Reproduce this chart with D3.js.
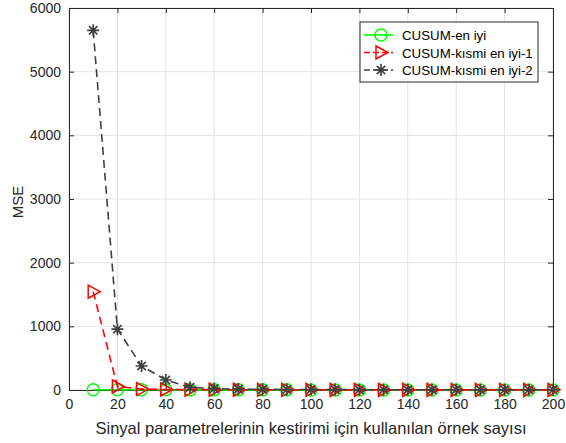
<!DOCTYPE html>
<html>
<head>
<meta charset="utf-8">
<script src="https://cdn.jsdelivr.net/npm/d3@7"></script>
<style>
body { margin: 0; background: #fff; }
text { font-family: "Liberation Sans", Arial, sans-serif; }
</style>
</head>
<body>
<div id="chart"></div>
<script>
const samples = [10, 20, 30, 40, 50, 60, 70, 80, 90, 100, 110, 120, 130, 140, 150, 160, 170, 180, 190, 200];
const best = [5, 4, 3, 3, 2, 2, 2, 2, 2, 1, 1, 1, 1, 1, 1, 1, 1, 1, 1, 1];
const partial1 = [1545, 55, 14, 8, 6, 5, 4, 3, 3, 3, 2, 2, 2, 2, 2, 2, 2, 2, 2, 2];
const partial2 = [5650, 955, 377, 157, 42, 22, 14, 10, 8, 7, 6, 5, 5, 4, 4, 4, 3, 3, 3, 3];
const xTicks = [0, 20, 40, 60, 80, 100, 120, 140, 160, 180, 200];
const yTicks = [0, 1000, 2000, 3000, 4000, 5000, 6000];
const seriesNames = ["CUSUM-en iyi", "CUSUM-kısmi en iyi-1", "CUSUM-kısmi en iyi-2"];

const width = 566, height = 443;
const margin = {left: 69, right: 13, top: 8, bottom: 53};

const svg = d3.select("#chart").append("svg")
    .attr("width", width)
    .attr("height", height);

const xscale = d3.scaleLinear().domain([0, 200]).range([margin.left, width - margin.right]);
const yscale = d3.scaleLinear().domain([0, 6000]).range([height - margin.bottom, margin.top]);

// grid
svg.append("g")
    .selectAll("line")
    .data(xTicks)
    .enter().append("line")
    .attr("x1", d => xscale(d)).attr("x2", d => xscale(d))
    .attr("y1", yscale(0)).attr("y2", yscale(6000))
    .attr("stroke", "#e3e3e3").attr("stroke-width", 1);
svg.append("g")
    .selectAll("line")
    .data(yTicks)
    .enter().append("line")
    .attr("x1", xscale(0)).attr("x2", xscale(200))
    .attr("y1", d => yscale(d)).attr("y2", d => yscale(d))
    .attr("stroke", "#e3e3e3").attr("stroke-width", 1);

// axes
svg.append("g")
    .attr("transform", `translate(0, ${yscale(0)})`)
    .call(d3.axisBottom(xscale).tickValues(xTicks).tickSize(-5).tickPadding(9));
svg.append("g")
    .attr("transform", `translate(${xscale(0)},0)`)
    .call(d3.axisLeft(yscale).tickValues(yTicks).tickSize(-5).tickPadding(8).tickFormat(d3.format("d")));
svg.append("g")
    .attr("transform", `translate(0, ${yscale(6000)})`)
    .call(d3.axisTop(xscale).tickValues(xTicks).tickSize(-5).tickFormat(""));
svg.append("g")
    .attr("transform", `translate(${xscale(200)},0)`)
    .call(d3.axisRight(yscale).tickValues(yTicks).tickSize(-5).tickFormat(""));

svg.selectAll(".domain").attr("stroke", "#262626");
svg.selectAll(".tick line").attr("stroke", "#262626");
svg.selectAll(".tick text").attr("fill", "#262626").style("font-size", "14px");

svg.append("text")
    .attr("x", (xscale(0) + xscale(200)) / 2)
    .attr("y", height - 9)
    .attr("text-anchor", "middle")
    .style("font-size", "16.5px")
    .attr("fill", "#262626")
    .text("Sinyal parametrelerinin kestirimi için kullanılan örnek sayısı");

svg.append("text")
    .attr("transform", `translate(23, ${(yscale(0) + yscale(6000)) / 2 + 3}) rotate(-90)`)
    .attr("text-anchor", "middle")
    .style("font-size", "15px")
    .attr("fill", "#262626")
    .text("MSE");

const line = d3.line().x(d => xscale(d[0])).y(d => yscale(d[1]));

function circleMarker(g, color) {
    g.append("circle").attr("r", 6).attr("fill", "none").attr("stroke", color).attr("stroke-width", 1.5);
}
function triMarker(g, color) {
    g.append("path").attr("d", "M-5,-6.5 L7,0 L-5,6.5 Z").attr("fill", "none").attr("stroke", color).attr("stroke-width", 1.5);
}
function starMarker(g, color) {
    const s = 6, d = s * 0.7;
    g.append("path")
        .attr("d", `M${-s},0 L${s},0 M0,${-s} L0,${s} M${-d},${-d} L${d},${d} M${-d},${d} L${d},${-d}`)
        .attr("stroke", color).attr("stroke-width", 1.7);
}

const series = [
    {name: seriesNames[0], values: best, color: "#00ff00", dash: null, marker: circleMarker},
    {name: seriesNames[1], values: partial1, color: "#ff0000", dash: "8,5", marker: triMarker},
    {name: seriesNames[2], values: partial2, color: "#404040", dash: "8,5", marker: starMarker}
];

series.forEach(s => {
    const pts = samples.map((x, i) => [x, s.values[i]]);
    svg.append("path")
        .datum(pts)
        .attr("d", line)
        .attr("fill", "none")
        .attr("stroke", s.color)
        .attr("stroke-width", 1.6)
        .attr("stroke-dasharray", s.dash);
    pts.forEach(p => {
        const g = svg.append("g").attr("transform", `translate(${xscale(p[0])},${yscale(p[1])})`);
        s.marker(g, s.color);
    });
});

// legend
const legend = svg.append("g").attr("transform", "translate(360, 22)");
legend.append("rect")
    .attr("width", 178).attr("height", 60)
    .attr("fill", "#fff").attr("stroke", "#262626").attr("stroke-width", 1);
series.forEach((s, i) => {
    const yy = 13 + i * 17.5;
    legend.append("line")
        .attr("x1", 4).attr("x2", 33).attr("y1", yy).attr("y2", yy)
        .attr("stroke", s.color).attr("stroke-width", 1.6)
        .attr("stroke-dasharray", s.dash ? "6,3" : null);
    const g = legend.append("g").attr("transform", `translate(21,${yy})`);
    s.marker(g, s.color);
    legend.append("text")
        .attr("x", 42).attr("y", yy + 5)
        .style("font-size", "13.3px")
        .attr("fill", "#000")
        .text(s.name);
});
</script>
</body>
</html>
